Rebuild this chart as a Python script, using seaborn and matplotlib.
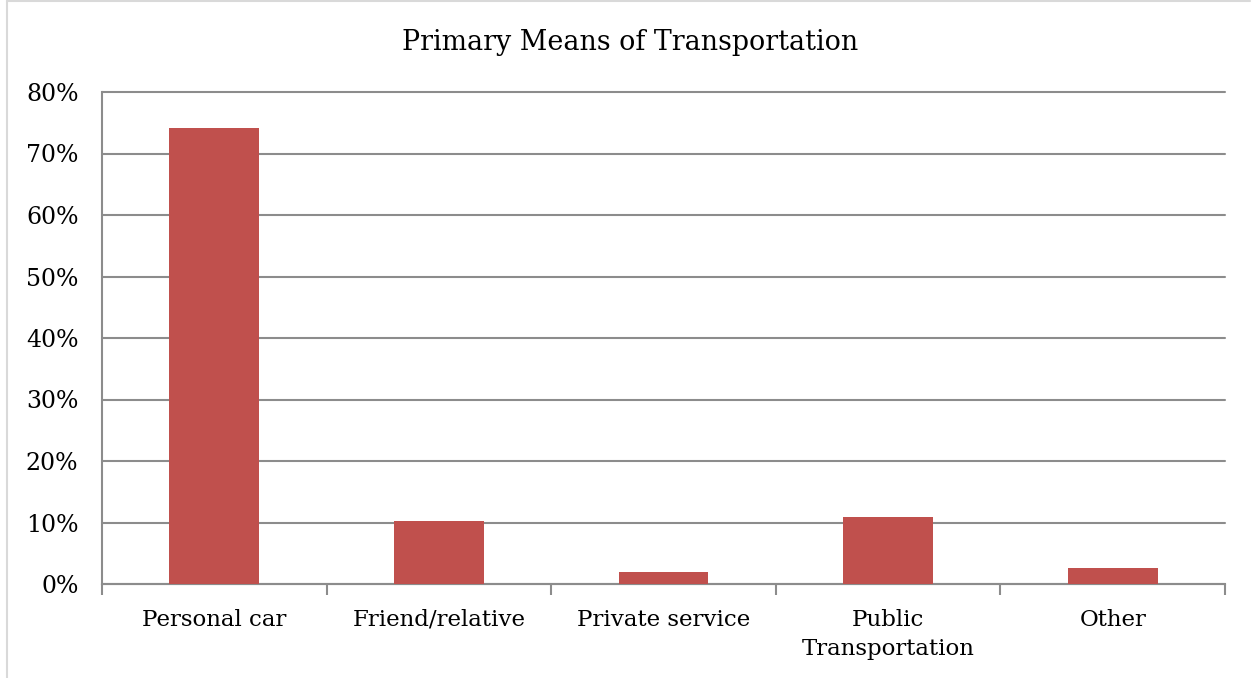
import numpy as np
import pandas as pd
import matplotlib
matplotlib.use('Agg')
import matplotlib.pyplot as plt
import seaborn as sns
from matplotlib.ticker import FuncFormatter, FixedLocator
from matplotlib.lines import Line2D

# Veriler
kategoriler = ['Personal car', 'Friend/relative', 'Private service', 'Public\nTransportation', 'Other']
oranlar = [0.742, 0.102, 0.020, 0.109, 0.026]
y_etiketleri = [0, 0.1, 0.2, 0.3, 0.4, 0.5, 0.6, 0.7, 0.8]

df = pd.DataFrame({'kategori': kategoriler, 'oran': oranlar})

sns.set_style('white')
plt.rcParams['font.family'] = ['DejaVu Serif']
plt.rcParams['text.color'] = 'black'
plt.rcParams['xtick.labelcolor'] = 'black'
plt.rcParams['ytick.labelcolor'] = 'black'

fig = plt.figure(figsize=(12.53, 6.78), dpi=100)
ax = fig.add_axes([102/1253, 1 - 584/678, 1123/1253, 492/678])

sns.barplot(data=df, x='kategori', y='oran', color='#C0504D', width=0.4,
            saturation=1, linewidth=0, ax=ax, zorder=3)

gri = '#8c8c8c'
ax.set_ylim(0, 0.8)
ax.set_xlim(-0.5, len(kategoriler) - 0.5)
ax.set_yticks(y_etiketleri)
ax.yaxis.set_major_formatter(FuncFormatter(lambda v, p: f'{v*100:.0f}%'))
ax.grid(axis='y', color=gri, linewidth=1.5, zorder=0)
for gl in ax.yaxis.get_gridlines():
    gl.set_clip_on(False)
ax.set_axisbelow(True)

ax.xaxis.set_minor_locator(FixedLocator(np.arange(-0.5, len(kategoriler), 1.0)))
ax.tick_params(axis='x', which='major', length=0, pad=18, labelsize=16.5)
ax.tick_params(axis='x', which='minor', length=8, width=1.5, color=gri, direction='out')
ax.tick_params(axis='y', length=8, width=1.5, color=gri, direction='out', labelsize=17, pad=9)
ax.tick_params(axis='x', bottom=True, which='both')
for lbl in ax.get_xticklabels():
    lbl.set_linespacing(1.4)

for s in ['top', 'right']:
    ax.spines[s].set_visible(False)
for s in ['left', 'bottom']:
    ax.spines[s].set_color(gri)
    ax.spines[s].set_linewidth(1.5)

ax.set_xlabel('')
ax.set_ylabel('')
fig.text(630/1253, 1 - 42/678, 'Primary Means of Transportation', ha='center', va='center', fontsize=19.4)

# dış çerçeve
fig.add_artist(Line2D([7/1253, 7/1253], [0, 1 - 1/678], color='#d9d9d9', linewidth=1.5))
fig.add_artist(Line2D([7/1253, 1250/1253], [1 - 1/678, 1 - 1/678], color='#d9d9d9', linewidth=1.5))

plt.savefig('out.png', dpi=100)
